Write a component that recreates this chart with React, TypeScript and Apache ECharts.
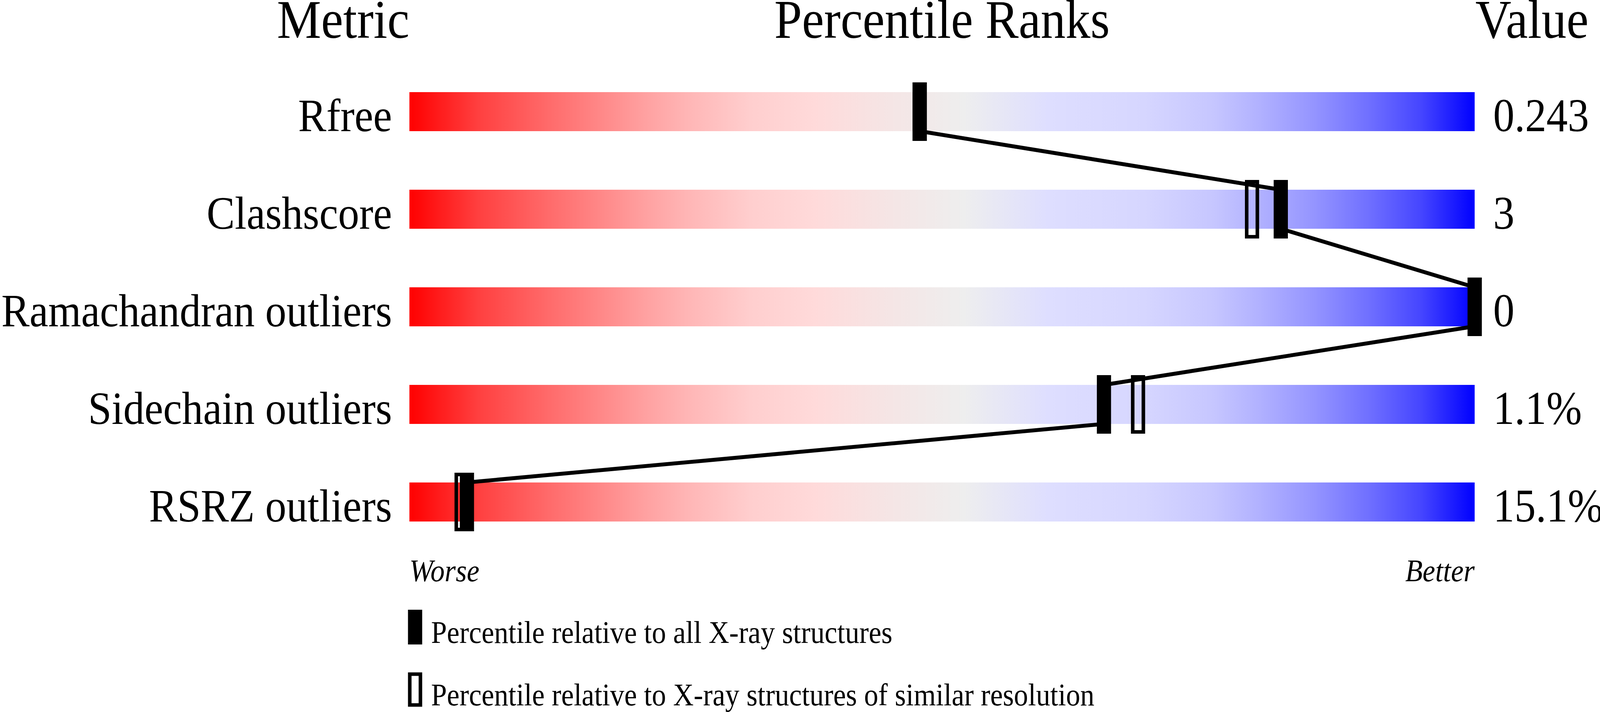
import React, { useEffect, useRef } from 'react';
import * as echarts from 'echarts';

// ---- data ----
const metrics = ['Rfree', 'Clashscore', 'Ramachandran outliers', 'Sidechain outliers', 'RSRZ outliers'];
const valueLabels = ['0.243', '3', '0', '1.1%', '15.1%'];
const percentileAll = [47.9, 81.8, 100, 65.2, 5.4];
const percentileSimilar = [47.9, 79.1, 100, 68.4, 4.9];
const headers = ['Metric', 'Percentile Ranks', 'Value'];
const scaleEnds = ['Worse', 'Better'];
const scaleEndPositions = [0, 100];
const legendLabels = [
  'Percentile relative to all X-ray structures',
  'Percentile relative to X-ray structures of similar resolution',
];
const gradientStops: [number, string][] = [
  [0, '#FF0000'],
  [0.065, '#FF4040'],
  [0.13, '#FF6A6A'],
  [0.22, '#FFA0A0'],
  [0.26, '#FFB5B5'],
  [0.32, '#FFCECE'],
  [0.38, '#FFDADA'],
  [0.45, '#F5E5E5'],
  [0.52, '#EEEEEE'],
  [0.6, '#DEDEFF'],
  [0.69, '#D6D6FF'],
  [0.755, '#C6C6FF'],
  [0.8, '#B0B0FF'],
  [0.85, '#9494FF'],
  [0.9, '#7070FF'],
  [0.95, '#4545FF'],
  [1, '#0000FF'],
];

// ---- layout constants (in reference pixels, scaled to the viewport) ----
const REF_W = 4506;
const REF_H = 1824;
const FONT = '"Liberation Serif", "Times New Roman", serif';
const BAR_HALF = 0.2; // in row units
const MARK_HALF = 0.3; // in row units
const MARK_W = 40;
const MARK_BORDER = 10;
const LINE_W = 11;
const GRID_LEFT = 1153;
const GRID_RIGHT = 4153;
const GRID_TOP = 161;
const GRID_H = 1250;
const CENTRAL = 0.3375; // distance of the text middle above the baseline, per em

export default function App() {
  const ref = useRef<HTMLDivElement>(null);
  useEffect(() => {
    const el = ref.current;
    if (!el) return;
    const cw = el.clientWidth || window.innerWidth;
    const ch = el.clientHeight || window.innerHeight;
    const sx = cw / REF_W;
    const sy = ch / REF_H;
    const X = (v: number) => v * sx;
    const Y = (v: number) => v * sy;
    const TS = sx / sy; // horizontal squeeze for text so widths & heights both match

    const chart = echarts.init(el, undefined, { renderer: 'svg' });

    // a text element whose baseline sits at pixel y = baselinePx
    const textEl = (
      text: string, xPx: number, baselinePx: number, size: number, align: string, extra: any = {}
    ) => ({
      type: 'text',
      x: xPx,
      y: baselinePx - Y(size) * CENTRAL,
      scaleX: TS,
      scaleY: 1,
      style: {
        text,
        fontSize: Y(size),
        fontFamily: FONT,
        fill: '#000',
        align,
        verticalAlign: 'middle',
        ...extra,
      },
    });

    const barRender = (params: any, api: any) => {
      const row = api.value(1);
      const p0 = api.coord([api.value(0), row - BAR_HALF]);
      const p1 = api.coord([api.value(2), row + BAR_HALF]);
      return {
        type: 'rect',
        shape: { x: p0[0], y: p0[1], width: p1[0] - p0[0], height: p1[1] - p0[1] },
        style: {
          fill: new echarts.graphic.LinearGradient(
            0, 0, 1, 0,
            gradientStops.map(([offset, color]) => ({ offset, color }))
          ),
        },
      };
    };

    const labelRender = (params: any, api: any) => {
      const row = api.value(0);
      const left = api.coord([0, row + BAR_HALF]);
      const right = api.coord([100, row + BAR_HALF]);
      return {
        type: 'group',
        children: [
          textEl(metrics[params.dataIndex], left[0] - X(49), left[1], 119, 'right'),
          textEl(valueLabels[params.dataIndex], right[0] + X(52), right[1], 120, 'left'),
        ],
      };
    };

    const scaleEndRender = (params: any, api: any) => {
      const p = api.coord([api.value(0), 4 + BAR_HALF]);
      const i = params.dataIndex;
      return textEl(scaleEnds[i], p[0], Y(1489), 80, i === 0 ? 'left' : 'right', {
        fontStyle: 'italic',
      });
    };

    const filledRender = (params: any, api: any) => {
      const row = api.value(1);
      const a = api.coord([api.value(0), row - MARK_HALF]);
      const b = api.coord([api.value(0), row + MARK_HALF]);
      return {
        type: 'rect',
        shape: { x: a[0] - X(MARK_W) / 2, y: a[1], width: X(MARK_W), height: b[1] - a[1] },
        style: { fill: '#000' },
      };
    };

    const openRender = (params: any, api: any) => {
      const row = api.value(1);
      const a = api.coord([api.value(0), row - MARK_HALF]);
      const b = api.coord([api.value(0), row + MARK_HALF]);
      const bw = X(MARK_BORDER);
      return {
        type: 'rect',
        shape: {
          x: a[0] - X(MARK_W) / 2 + bw / 2,
          y: a[1] + bw / 2,
          width: X(MARK_W) - bw,
          height: b[1] - a[1] - bw,
        },
        style: { fill: 'none', stroke: '#000', lineWidth: bw },
      };
    };

    // zigzag connecting the filled markers: bottom of one bar to top of the next
    const linePoints: number[][] = [];
    percentileAll.forEach((p, i) => {
      if (i > 0) linePoints.push([p, i - BAR_HALF]);
      if (i < percentileAll.length - 1) linePoints.push([p, i + BAR_HALF]);
    });

    chart.setOption({
      animation: false,
      backgroundColor: '#fff',
      grid: {
        left: X(GRID_LEFT),
        top: Y(GRID_TOP),
        width: X(GRID_RIGHT - GRID_LEFT),
        height: Y(GRID_H),
        containLabel: false,
        outerBoundsMode: 'none',
      },
      xAxis: { type: 'value', min: 0, max: 100, show: false },
      yAxis: { type: 'value', min: -0.5, max: 4.5, inverse: true, show: false },
      graphic: [
        textEl(headers[0], X(1153), Y(97), 140, 'right'),
        textEl(headers[1], X((GRID_LEFT + GRID_RIGHT) / 2), Y(97), 140, 'center'),
        textEl(headers[2], X(4155), Y(97), 140, 'left'),
        {
          type: 'rect',
          shape: { x: X(1149), y: Y(1562), width: X(40), height: Y(89) },
          style: { fill: '#000' },
        },
        textEl(legendLabels[0], X(1214), Y(1647), 80, 'left'),
        {
          type: 'rect',
          shape: { x: X(1154), y: Y(1727), width: X(30), height: Y(79) },
          style: { fill: 'none', stroke: '#000', lineWidth: X(10) },
        },
        textEl(legendLabels[1], X(1214), Y(1807), 80, 'left'),
      ],
      series: [
        {
          type: 'custom',
          name: 'bars',
          clip: false,
          z: 1,
          data: metrics.map((m, i) => [0, i, 100]),
          encode: { x: [0, 2], y: 1 },
          renderItem: barRender,
          silent: true,
        },
        {
          type: 'custom',
          name: 'labels',
          clip: false,
          z: 1,
          data: metrics.map((m, i) => [i]),
          encode: { y: 0 },
          renderItem: labelRender,
          silent: true,
        },
        {
          type: 'custom',
          name: 'scale ends',
          clip: false,
          z: 1,
          data: scaleEndPositions.map((v) => [v]),
          encode: { x: 0 },
          renderItem: scaleEndRender,
          silent: true,
        },
        {
          type: 'line',
          z: 2,
          clip: false,
          symbol: 'none',
          data: linePoints,
          lineStyle: { color: '#000', width: X(LINE_W), join: 'round' },
          silent: true,
        },
        {
          type: 'custom',
          name: legendLabels[1],
          clip: false,
          z: 3,
          data: percentileSimilar.map((p, i) => [p, i]),
          encode: { x: 0, y: 1 },
          renderItem: openRender,
          silent: true,
        },
        {
          type: 'custom',
          name: legendLabels[0],
          clip: false,
          z: 4,
          data: percentileAll.map((p, i) => [p, i]),
          encode: { x: 0, y: 1 },
          renderItem: filledRender,
          silent: true,
        },
      ],
    });
    return () => chart.dispose();
  }, []);

  return (
    <div
      ref={ref}
      style={{ position: 'fixed', left: 0, top: 0, width: '100vw', height: '100vh', background: '#fff' }}
    />
  );
}
